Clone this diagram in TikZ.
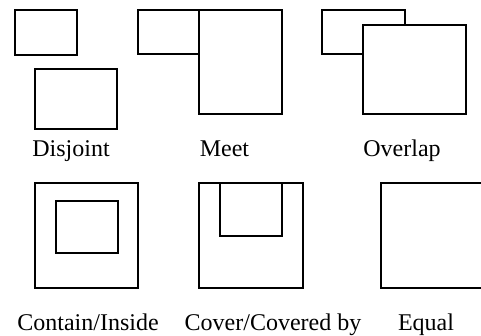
\documentclass[tikz,border=0pt]{standalone}
\usepackage{fontspec}
\setmainfont{Liberation Serif}
\begin{document}
\begin{tikzpicture}[x=1pt,y=-1pt,
  box/.style={draw=black,line width=1.7pt,fill=white},
  lbl/.style={font=\fontsize{24}{27}\selectfont,anchor=base,inner sep=0pt}]
\useasboundingbox (0,0) rectangle (481,336);
\clip (0,0) rectangle (481,336);
% Disjoint
\draw[box] (15,10) rectangle (77,55);
\draw[box] (35,69) rectangle (117,129);
\node[lbl] (disjoint) at (71,157) {Disjoint};
% Meet
\draw[box] (138,10) rectangle (199,54);
\draw[box] (199,10) rectangle (282,114);
\node[lbl] (meet) at (224.5,157) {Meet};
% Overlap
\draw[box] (322,10) rectangle (405,54);
\draw[box] (363,25) rectangle (466,114);
\node[lbl] (overlap) at (402,157) {Overlap};
% Contain/Inside
\draw[box] (35,183) rectangle (138,288);
\draw[box] (56,201) rectangle (118,253);
\node[lbl] (contain) at (88,330) {Contain/Inside};
% Cover/Covered by
\draw[box] (199,183) rectangle (303,288);
\draw[box] (220,183) rectangle (282,236);
\node[lbl] (cover) at (273,330) {Cover/Covered by};
% Equal
\draw[box] (381,183) rectangle (485,288);
\node[lbl] (equal) at (426,330) {Equal};
\end{tikzpicture}
\end{document}
